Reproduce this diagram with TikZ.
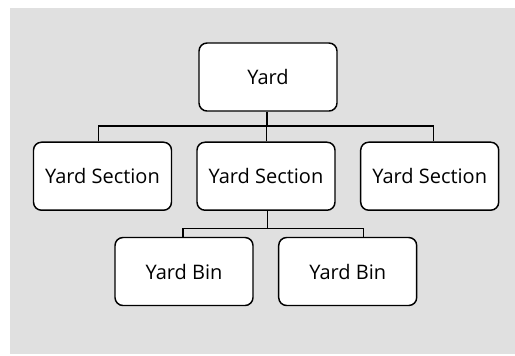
\documentclass[tikz,border=0pt]{standalone}
\usepackage{fontspec}
\setmainfont{Open Sans}
\definecolor{bggray}{HTML}{E0E0E0}
\begin{document}
\begin{tikzpicture}[x=0.75pt,y=-0.75pt,
  box/.style={draw=black,line width=1.1pt,rounded corners=6pt,fill=white,
    minimum width=103.5pt,minimum height=51pt,inner sep=0pt,
    font=\fontsize{15pt}{17pt}\selectfont},
  conn/.style={draw=black,line width=1.1pt}]
\useasboundingbox (0,0) rectangle (515,355);
\fill[bggray] (10,8) rectangle (515,354);
\node[box] (yard) at (268,77) {Yard};
\node[box] (s1) at (102.5,176.2) {Yard Section};
\node[box] (s2) at (266,176.2) {Yard Section};
\node[box] (s3) at (429.7,176.2) {Yard Section};
\node[box] (b1) at (184,271.5) {Yard Bin};
\node[box] (b2) at (347.7,271.5) {Yard Bin};
\coordinate (busA) at (0,126);
\coordinate (busB) at (0,228.7);
\draw[conn] ([xshift=-0.7pt]yard.south) -- ([xshift=-0.7pt]yard.south |- busA);
\draw[conn] ([xshift=-3pt]s1.north) -- ([xshift=-3pt]s1.north |- busA) -- ([xshift=3pt]s3.north |- busA) -- ([xshift=3pt]s3.north);
\draw[conn] ([xshift=0.5pt]s2.north) -- ([xshift=0.5pt]s2.north |- busA);
\draw[conn] ([xshift=1pt]s2.south) -- ([xshift=1pt]s2.south |- busB);
\draw[conn] ([xshift=-0.7pt]b1.north) -- ([xshift=-0.7pt]b1.north |- busB) -- ([xshift=11.7pt]b2.north |- busB) -- ([xshift=11.7pt]b2.north);
\end{tikzpicture}
\end{document}
